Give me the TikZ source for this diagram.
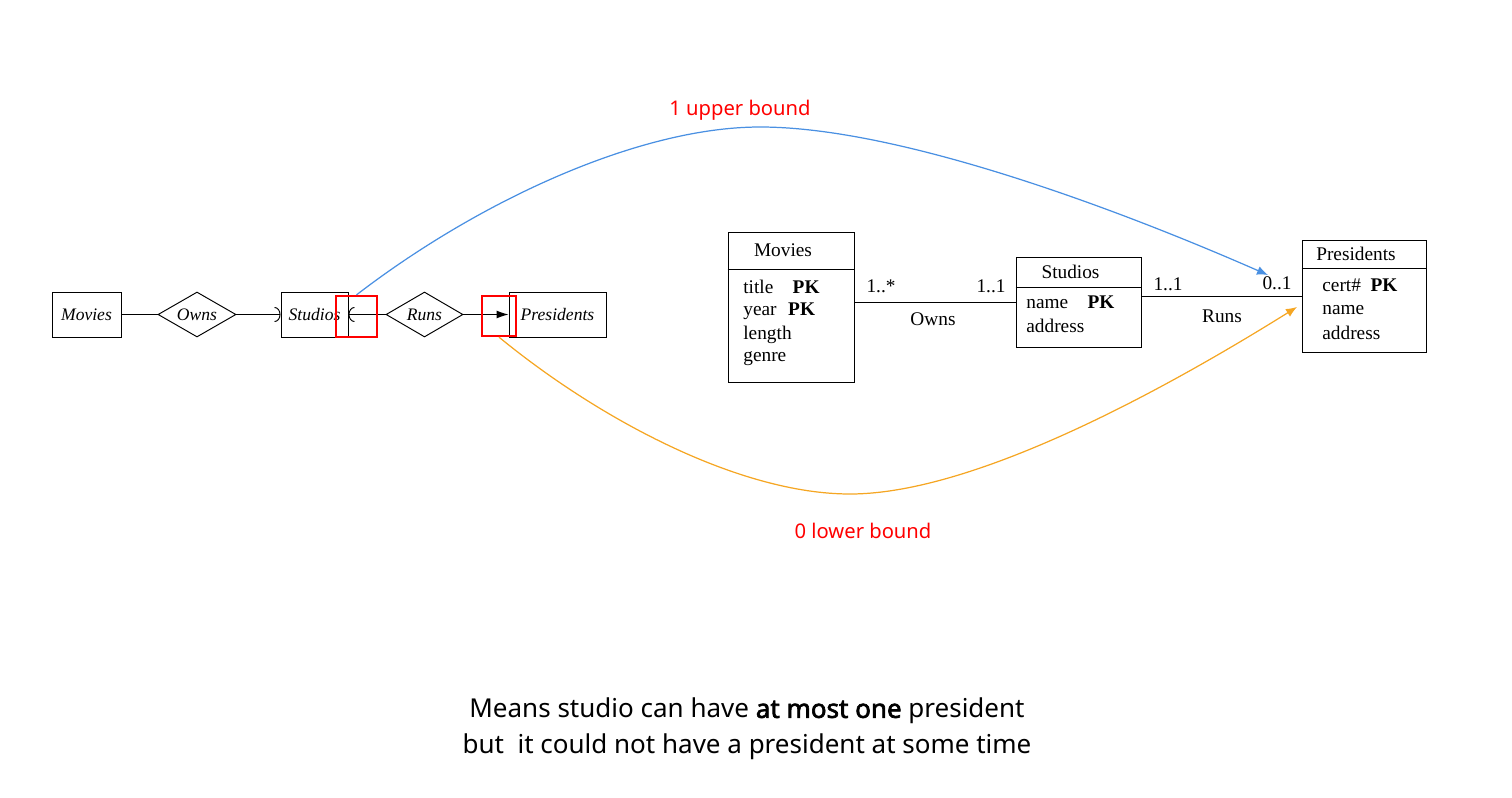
\documentclass[tikz,border=0pt]{standalone}
\usepackage{fontspec}
\setmainfont{Liberation Serif}
\newfontfamily\notefont{Noto Sans}[AutoFakeBold=2.5]
\usetikzlibrary{shapes.geometric,arrows.meta,calc}
\definecolor{upblue}{RGB}{74,144,226}
\definecolor{loworange}{RGB}{245,166,35}
\tikzstyle{box}=[rectangle, draw=black, line width=0.55pt, inner sep=0pt, anchor=center]
\tikzstyle{entity}=[box, minimum height=0.9cm, font=\fontsize{10}{12}\selectfont\itshape]
\tikzstyle{rel}=[diamond, aspect=1.7, draw=black, line width=0.55pt, inner sep=0pt, minimum width=1.56cm, minimum height=0.9cm, font=\fontsize{10}{12}\selectfont\itshape]
\tikzstyle{hl}=[rectangle, draw=red, line width=1.3pt, inner sep=0pt]
\tikzstyle{attr}=[anchor=west, inner sep=0pt, font=\fontsize{11}{13}\selectfont]
\tikzstyle{annot}=[align=center, inner sep=0pt, font=\fontsize{11}{13}\selectfont]
\tikzstyle{bound}=[text=red, inner sep=0pt, font=\notefont\fontsize{11.5}{14}\selectfont]
\newcommand{\umlclass}[6]
{
  \node[box, minimum width=#3, minimum height=#4](#1) at #2{};
  \draw[line width=0.55pt] (#1.west |- 0,#5) -- (#1.east |- 0,#5);
  \path let \p1 = (#1.north), \p2 = (0,#5) in node[annot, xshift=-0.16cm] at (\x1,{(\y1+\y2)/2}) {#6};
}

\begin{document}
\begin{tikzpicture}[x=0.02cm, y=-0.02cm]
	\useasboundingbox (0,0) rectangle (1512,798);

	% E/R diagram
	\node[entity, minimum width=1.38cm](ermovies) at (86.5,314.5){Movies};
	\node[rel](erowns) at (197,314.5){Owns};
	\node[entity, minimum width=1.34cm](erstudios) at (314.5,314.5){Studios};
	\node[rel, minimum width=1.54cm](erruns) at (424.5,314.5){Runs};
	\node[entity, minimum width=1.94cm](erpres) at (557.5,314.5){Presidents};

	\draw[line width=0.55pt] (ermovies) -- (erowns);
	\draw[line width=0.55pt, -{Arc Barb[length=1.2mm, width=3mm]}] (erowns) -- (erstudios);
	\draw[line width=0.55pt, -{Arc Barb[length=1.2mm, width=3mm]}] (erruns) -- (erstudios);
	\draw[line width=0.55pt, -{Latex[length=2.4mm, width=1.6mm]}] (erruns) -- (erpres);

	\node[hl, minimum width=0.82cm, minimum height=0.82cm](redA) at (356.5,316.5){};
	\node[hl, minimum width=0.68cm, minimum height=0.8cm](redB) at (499,316){};

	% UML diagram
	\umlclass{umlmovies}{(791,307)}{2.52cm}{3cm}{269}{Movies}
	\node[attr] (mtitle) at (743,287) {title\quad\textbf{PK}};
	\node[attr] (myear) at (743,311) {year\hspace{0.6em}\textbf{PK}};
	\node[attr] (mlength) at (743,335) {length};
	\node[attr] (mgenre) at (743,359) {genre};

	\umlclass{umlstudios}{(1078.5,302)}{2.5cm}{1.8cm}{287}{Studios}
	\node[attr] (sname) at (1026,302) {name\quad\textbf{PK}};
	\node[attr] (saddr) at (1026,326) {address};

	\umlclass{umlpres}{(1364,296)}{2.48cm}{2.24cm}{268}{Presidents}
	\node[attr] (pcert) at (1322,285) {cert\#\enspace\textbf{PK}};
	\node[attr] (pname) at (1322,310) {name};
	\node[attr] (paddr) at (1322,333) {address};

	\draw[line width=0.55pt] (umlmovies.east |- umlstudios.west) -- (umlstudios.west);
	\draw[line width=0.55pt] (umlstudios.east |- umlpres.west) -- (umlpres.west);
	\node[annot] (m1) at (881,286) {1..*};
	\node[annot] (m2) at (991,286) {1..1};
	\node[annot] (ownslbl) at (933,319) {Owns};
	\node[annot] (m3) at (1168,284) {1..1};
	\node[annot] (m4) at (1277,283) {0..1};
	\node[annot] (runslbl) at (1222,316) {Runs};

	% bounds
	\coordinate (upend) at (1268,275);
	\coordinate (lowend) at (1297,307);
	\draw[upblue, line width=0.7pt, -{Latex[length=2.2mm, width=1.8mm]}] (redA.north) .. controls (480,200) and (640,127) .. (760,127)
		.. controls (900,127) and (1120,210) .. (upend);
	\draw[loworange, line width=0.7pt, -{Latex[length=2.2mm, width=1.8mm]}] (redB.south) .. controls (600,420) and (740,494) .. (850,494)
		.. controls (980,494) and (1180,380) .. (lowend);
	\node[bound] (upper) at (740,110) {1 upper bound};
	\node[bound] (lower) at (863,531) {0 lower bound};

	\node[align=center, font=\notefont\fontsize{14.8}{20.4}\selectfont] (note) at (747,729) {Means studio can have \textbf{at most one} president\\but\ \ it could not have a president at some time};
\end{tikzpicture}
\end{document}
